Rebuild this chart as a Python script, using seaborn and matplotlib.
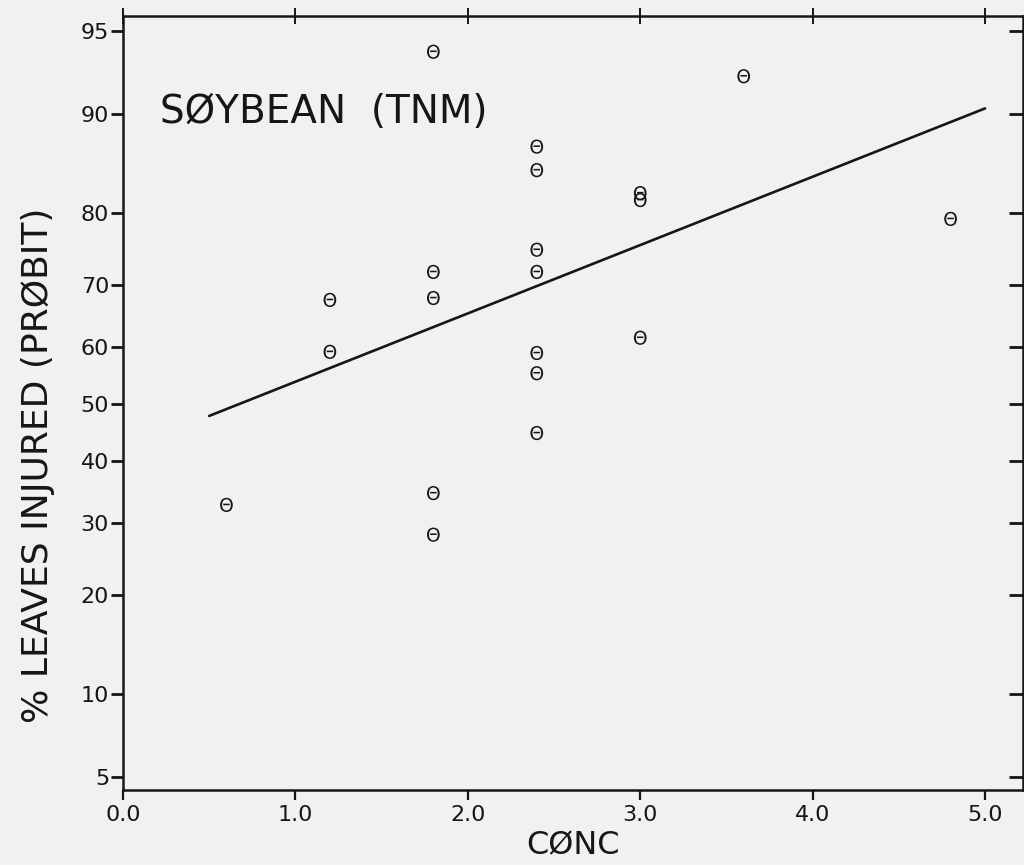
import numpy as np
import pandas as pd
import matplotlib
matplotlib.use("Agg")
import matplotlib.pyplot as plt
import matplotlib.lines as mlines
import seaborn as sns
from statistics import NormalDist

# ---- data ----
conc = [0.6, 1.2, 1.2, 1.8, 1.8, 1.8, 1.8, 1.8, 2.4, 2.4, 2.4, 2.4, 2.4, 2.4, 2.4,
        3.0, 3.0, 3.0, 3.6, 4.8]
pct_injured = [32.8, 67.7, 59.1, 94.0, 72.0, 68.0, 34.7, 28.2, 87.2, 84.9, 75.2, 72.0,
               58.9, 55.4, 44.9, 82.4, 81.6, 61.5, 92.6, 79.3]
fit_conc = [0.5, 5.0]
fit_pct = [47.9, 90.4]
y_ticks = [5, 10, 20, 30, 40, 50, 60, 70, 80, 90, 95]
y_ticklabels = ["5", "10", "20", "30", "40", "50", "60", "70", "80", "90", "95"]
x_ticks = [0.0, 1.0, 2.0, 3.0, 4.0, 5.0]
x_ticklabels = ["0.0", "1.0", "2.0", "3.0", "4.0", "5.0"]
title_text = "SØYBEAN  (TNM)"
x_label = "CØNC"
y_label = "% LEAVES INJURED (PRØBIT)"

sns.set_theme(style="ticks")
plt.rcParams["font.family"] = ["DejaVu Sans"]

BG = "#f1f1f0"
INK = "#161616"

_nd = NormalDist()
_ppf = np.vectorize(_nd.inv_cdf, otypes=[float])
_cdf = np.vectorize(_nd.cdf, otypes=[float])


def probit_fwd(p):
    p = np.clip(np.asarray(p, dtype=float) / 100.0, 1e-9, 1 - 1e-9)
    return _ppf(p)


def probit_inv(z):
    return _cdf(np.asarray(z, dtype=float)) * 100.0


fig = plt.figure(figsize=(10.24, 8.65), dpi=100, facecolor=BG)
ax = fig.add_axes([123 / 1024, 75 / 865, 900 / 1024, 774 / 865], facecolor=BG)
ax.set_yscale("function", functions=(probit_fwd, probit_inv))

pts = pd.DataFrame({"conc": conc, "pct": pct_injured})
fit = pd.DataFrame({"conc": fit_conc, "pct": fit_pct})

sns.lineplot(data=fit, x="conc", y="pct", ax=ax, color=INK, linewidth=1.9,
             legend=False)
sns.scatterplot(data=pts, x="conc", y="pct", ax=ax, marker=r"$\Theta$", s=105,
                color=INK, edgecolor="none", linewidth=0, legend=False, zorder=3)

ax.set_xlim(0, 5.22)
ax.set_ylim(4.42, 95.66)
ax.set_xticks(x_ticks)
ax.set_xticklabels(x_ticklabels)
ax.set_yticks(y_ticks)
ax.set_yticklabels(y_ticklabels)
ax.yaxis.set_minor_locator(matplotlib.ticker.NullLocator())
ax.xaxis.set_minor_locator(matplotlib.ticker.NullLocator())

for side in ["left", "bottom", "top", "right"]:
    ax.spines[side].set_visible(True)
    ax.spines[side].set_color(INK)
    ax.spines[side].set_linewidth(1.8)

ax.tick_params(axis="y", which="major", left=True, right=True, direction="out",
               length=9, width=2.0, color=INK, labelsize=16, labelcolor=INK, pad=1)
ax.tick_params(axis="x", which="major", bottom=True, top=True, direction="out",
               length=7, width=1.6, color=INK, labelsize=16, labelcolor=INK, pad=4)

# right ticks point inward; top ticks cross the spine
for t in ax.yaxis.get_major_ticks():
    t.tick2line.set_marker(mlines.TICKLEFT)
    t.tick2line.set_markersize(10)
for t in ax.xaxis.get_major_ticks():
    t.tick2line.set_marker("|")
    t.tick2line.set_markersize(12)
    t.tick2line.set_markeredgewidth(1.4)

ax.set_xlabel(x_label, fontsize=23, color=INK, labelpad=4)
ax.set_ylabel(y_label, fontsize=26, color=INK)
ax.yaxis.set_label_coords(-0.075, 0.42)

ax.text(0.041, 0.876, title_text, transform=ax.transAxes, fontsize=28,
        color=INK, ha="left", va="center")

fig.savefig("out.png", dpi=100, facecolor=BG)
